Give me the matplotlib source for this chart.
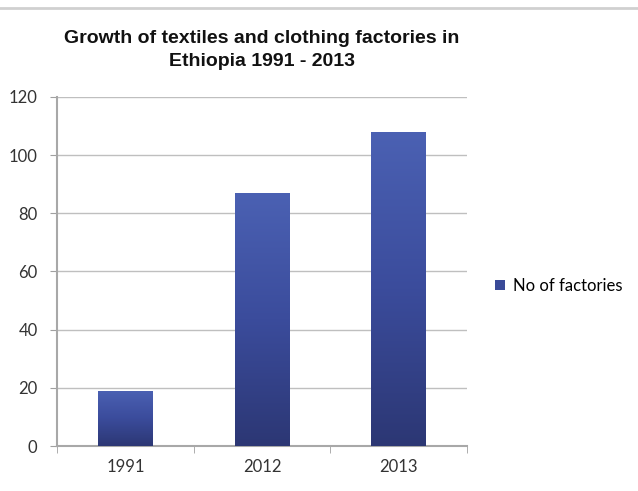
import matplotlib
matplotlib.use("Agg")
import matplotlib.pyplot as plt
import numpy as np
from matplotlib.colors import LinearSegmentedColormap
from matplotlib.patches import Patch

years = ["1991", "2012", "2013"]
factories = [19, 87, 108]
yticks = [0, 20, 40, 60, 80, 100, 120]
series_name = "No of factories"
title = "Growth of textiles and clothing factories in\nEthiopia 1991 - 2013"

title_family = ["Liberation Sans", "DejaVu Sans"]
tick_family = ["Lato", "DejaVu Sans"]

fig = plt.figure(figsize=(6.38, 4.91), dpi=100)
ax = fig.add_axes([0.0893, 0.0916, 0.643, 0.711])

x = np.arange(len(years))
bars = ax.bar(x, factories, width=0.4, color="#3a4a98", zorder=2)

cmap = LinearSegmentedColormap.from_list("g", ["#2c3774", "#3b4c9c", "#4b61b3"])
grad = np.linspace(0, 1, 256).reshape(-1, 1)
for b in bars:
    x0, y0 = b.get_x(), b.get_y()
    w, h = b.get_width(), b.get_height()
    im = ax.imshow(grad, cmap=cmap, aspect="auto", origin="lower",
                   extent=[x0, x0 + w, y0, y0 + h], zorder=3)
    im.set_clip_path(b)

ax.set_xlim(-0.5, len(years) - 0.5)
ax.set_ylim(0, 120)
ax.set_yticks(yticks)
ax.set_xticks(x)
ax.set_xticklabels(years)
ax.set_xticks(np.arange(-0.5, len(years), 1.0), minor=True)
ax.tick_params(axis="x", which="major", length=0, pad=9, labelsize=12, labelcolor="#333333")
ax.tick_params(axis="x", which="minor", length=5, color="#a0a0a0", direction="out")
ax.tick_params(axis="y", length=5, color="#a0a0a0", direction="out", pad=9,
               labelsize=12, labelcolor="#333333")
for lab in ax.get_xticklabels() + ax.get_yticklabels():
    lab.set_fontfamily(tick_family)

ax.grid(axis="y", color="#bfbfbf", linewidth=1.0, zorder=0)
ax.set_axisbelow(True)
for s in ["top", "right"]:
    ax.spines[s].set_visible(False)
for s in ["left", "bottom"]:
    ax.spines[s].set_color("#a8a8a8")
    ax.spines[s].set_linewidth(1.5)

title_x = (0.0893 + 0.0893 + 0.643) / 2
fig.text(title_x, 1 - 50 / 491, title, ha="center", va="center", fontsize=14,
         fontweight="bold", family=title_family, color="#111111",
         linespacing=1.4)

fig.add_artist(plt.Line2D([0, 1], [1 - 8 / 491, 1 - 8 / 491], color="#d0d0d0",
                          linewidth=2, transform=fig.transFigure))

handle = Patch(facecolor="#3a4a98", edgecolor="none")
fig.legend([handle], [series_name], loc="center left",
           bbox_to_anchor=(0.752, 1 - 286 / 491), frameon=False,
           handlelength=0.6, handleheight=0.6, handletextpad=0.5,
           prop={"family": tick_family, "size": 12})

fig.savefig("out.png", dpi=100, facecolor="white")
